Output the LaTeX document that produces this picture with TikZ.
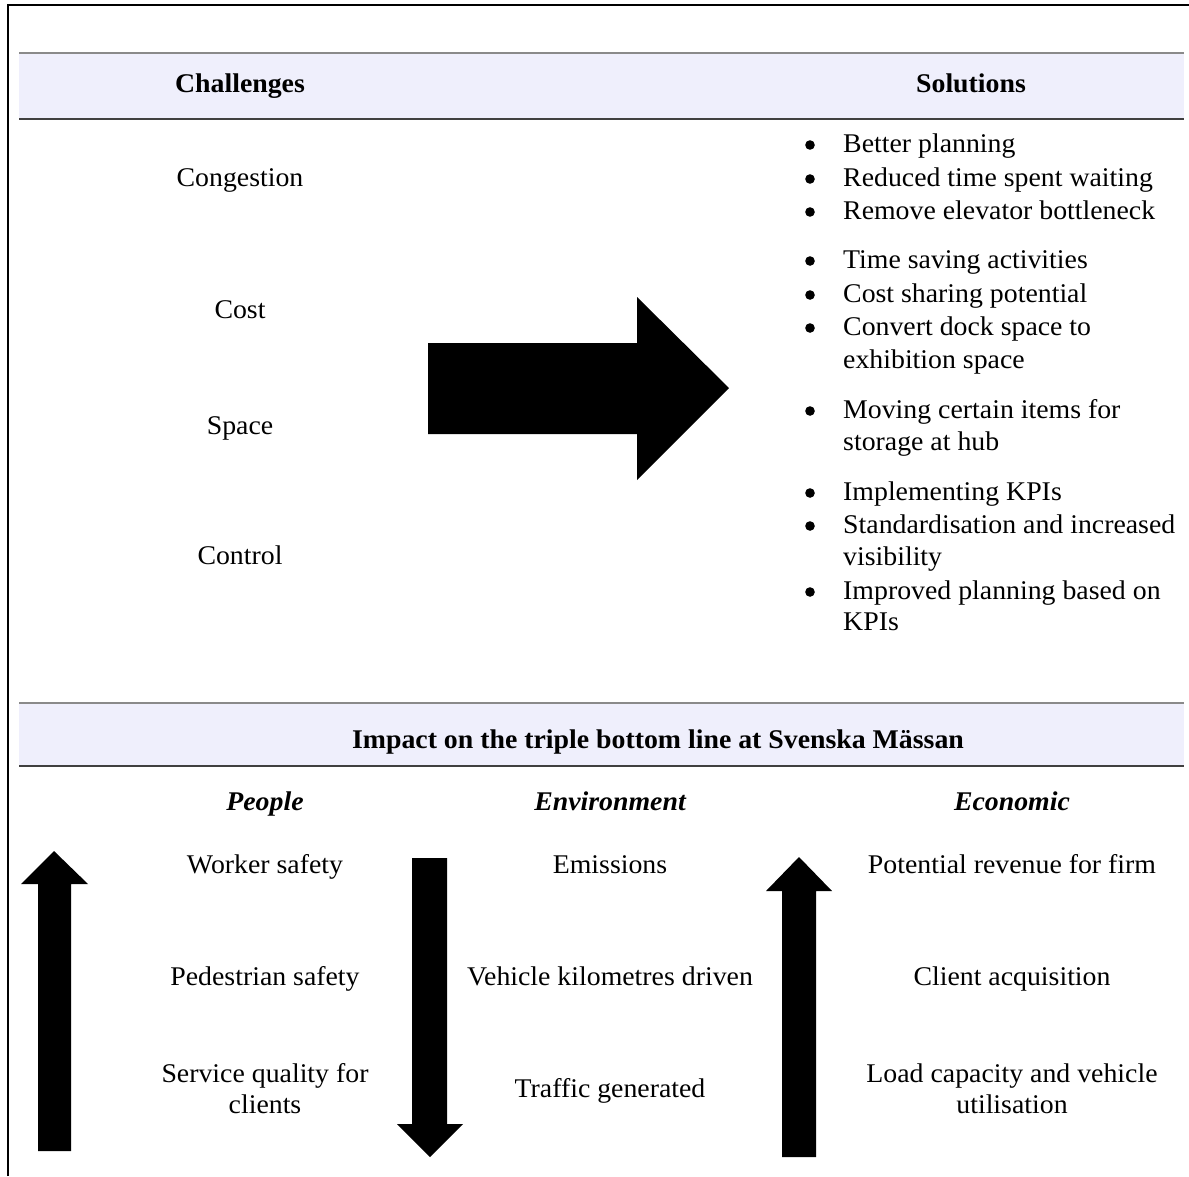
\documentclass[tikz,border=0pt]{standalone}
\usepackage{fontspec}
\setmainfont[FakeStretch=1.03]{Liberation Serif}
\definecolor{barfill}{HTML}{EFEFFC}
\definecolor{rulegray}{HTML}{8A8A8A}
\definecolor{ruledark}{HTML}{404040}
\begin{document}
\begin{tikzpicture}[x=1pt,y=-1pt,
  txt/.style={inner sep=0pt,anchor=base,font=\fontsize{27}{32}\selectfont},
  head/.style={txt,font=\fontsize{27}{32}\selectfont\bfseries},
  cat/.style={txt,font=\fontsize{27}{32}\selectfont\bfseries\itshape},
  item/.style={inner sep=0pt,anchor=base west,font=\fontsize{27}{32}\selectfont},
  dot/.style={fill=black,draw=none},
  blk/.style={fill=black,draw=none}]
\useasboundingbox (0,0) rectangle (1189,1176);

% outer frame (top and left edges)
\draw[line width=2.5pt] (8,1176) -- (8,5) -- (1189,5);

% header bars
\fill[barfill] (19,53) rectangle (1184,119);
\draw[rulegray,line width=1.2pt] (19,53) -- (1184,53);
\draw[ruledark,line width=1.2pt] (19,119) -- (1184,119);
\fill[barfill] (19,703) rectangle (1184,766);
\draw[rulegray,line width=1.2pt] (19,703) -- (1184,703);
\draw[ruledark,line width=1.2pt] (19,766) -- (1184,766);

\node[head] (hch) at (240,92) {Challenges};
\node[head] (hso) at (971,92) {Solutions};

% challenges
\node[txt] (c1) at (240,186) {Congestion};
\node[txt] (c2) at (240,318) {Cost};
\node[txt] (c3) at (240,434) {Space};
\node[txt] (c4) at (240,564) {Control};

% big right arrow
\fill[blk] (428,343) -- (637,343) -- (637,297) -- (729,388) -- (637,480) -- (637,434) -- (428,434) -- cycle;

% solutions: bullets and items
\foreach \y in {152,186,219,268,302,335,418,500,533,599}
  \fill[dot] (810,\y-7) circle (4.8);
\node[item] (s1) at (843,152) {Better planning};
\node[item] (s2) at (843,186) {Reduced time spent waiting};
\node[item] (s3) at (843,219) {Remove elevator bottleneck};
\node[item] (s4) at (843,268) {Time saving activities};
\node[item] (s5) at (843,302) {Cost sharing potential};
\node[item] (s6) at (843,335) {Convert dock space to};
\node[item] (s6b) at (843,368) {exhibition space};
\node[item] (s7) at (843,418) {Moving certain items for};
\node[item] (s7b) at (843,450) {storage at hub};
\node[item] (s8) at (843,500) {Implementing KPIs};
\node[item] (s9) at (843,533) {Standardisation and increased};
\node[item] (s9b) at (843,565) {visibility};
\node[item] (s10) at (843,599) {Improved planning based on};
\node[item] (s10b) at (843,630) {KPIs};

% triple bottom line
\node[head] (himp) at (658,748) {Impact on the triple bottom line at Svenska Mässan};
\node[cat] (pp) at (265,810) {People};
\node[cat] (en) at (610,810) {Environment};
\node[cat] (ec) at (1012,810) {Economic};

\node[txt] (p1) at (265,873) {Worker safety};
\node[txt] (p2) at (265,985) {Pedestrian safety};
\node[txt] (p3) at (265,1082) {Service quality for};
\node[txt] (p3b) at (265,1113) {clients};

\node[txt] (e1) at (610,873) {Emissions};
\node[txt] (e2) at (610,985) {Vehicle kilometres driven};
\node[txt] (e3) at (610,1097) {Traffic generated};

\node[txt] (k1) at (1012,873) {Potential revenue for firm};
\node[txt] (k2) at (1012,985) {Client acquisition};
\node[txt] (k3) at (1012,1082) {Load capacity and vehicle};
\node[txt] (k3b) at (1012,1113) {utilisation};

% vertical arrows
\fill[blk] (38,1151) -- (38,884) -- (21,884) -- (54,851) -- (88,884) -- (71,884) -- (71,1151) -- cycle;
\fill[blk] (412,858) -- (447,858) -- (447,1124) -- (463,1124) -- (430,1157) -- (397,1124) -- (412,1124) -- cycle;
\fill[blk] (782,1157) -- (782,891) -- (766,891) -- (799,857) -- (832,891) -- (816,891) -- (816,1157) -- cycle;
\end{tikzpicture}
\end{document}
